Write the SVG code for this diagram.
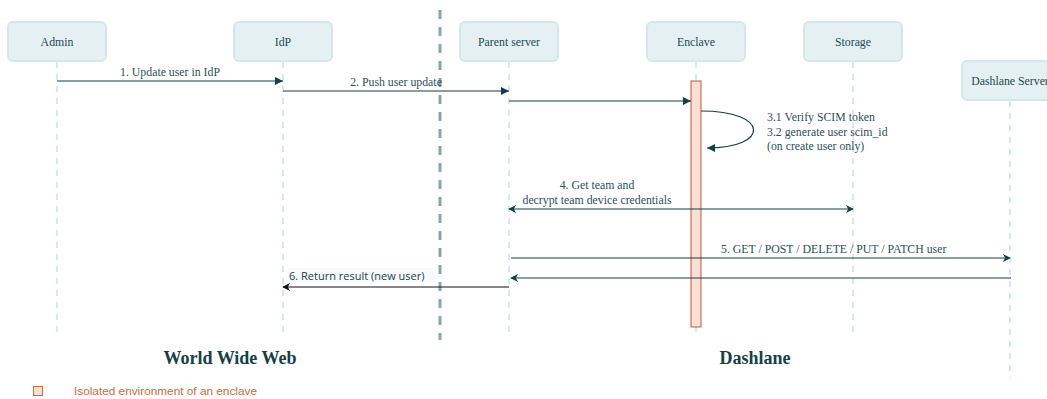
<svg xmlns="http://www.w3.org/2000/svg" width="1047" height="399" viewBox="0 0 1047 399">
<style>
.box{fill:#e5f0f3;stroke:#d3e7ec;stroke-width:2}
.lbl{font-family:"Liberation Serif",serif;font-size:11.8px;fill:#1f4a52;text-anchor:middle}
.life{stroke:#d6e9ee;stroke-width:2;stroke-dasharray:6 6;fill:none}
.msg{stroke:#163e45;stroke-width:1.2;fill:none}
.mt{font-family:"Liberation Serif",serif;font-size:11.8px;fill:#2d5057}
.big{font-family:"Liberation Serif",serif;font-size:18px;font-weight:bold;fill:#183f46;text-anchor:middle}
</style>
<defs>
<marker id="ah" viewBox="0 0 10 10" refX="10" refY="5" markerWidth="8" markerHeight="8" markerUnits="userSpaceOnUse" orient="auto-start-reverse"><path d="M0,0 L10,5 L0,10 z" fill="#163e45"/></marker>
<marker id="ao" viewBox="0 0 10 10" refX="9" refY="5" markerWidth="8" markerHeight="8" markerUnits="userSpaceOnUse" orient="auto-start-reverse"><path d="M0,0 L10,5 L0,10 L3,5 z" fill="#163e45"/></marker>
<marker id="ab" viewBox="0 0 10 10" refX="9" refY="5" markerWidth="8" markerHeight="8" markerUnits="userSpaceOnUse" orient="auto-start-reverse"><path d="M0,0 L10,5 L0,10 L3,5 z" fill="#111"/></marker>
</defs>
<g id="separator"><line x1="440" y1="10" x2="440" y2="340" stroke="#8ea3a6" stroke-width="3" stroke-dasharray="9 8"/></g>
<g id="lifelines">
<line class="life" x1="57" y1="62" x2="57" y2="338"/>
<line class="life" x1="283" y1="62" x2="283" y2="338"/>
<line class="life" x1="509" y1="62" x2="509" y2="338"/>
<line class="life" x1="696" y1="62" x2="696" y2="338"/>
<line class="life" x1="853" y1="62" x2="853" y2="338"/>
<line class="life" x1="1010" y1="101" x2="1010" y2="378"/>
</g>
<g id="admin"><rect class="box" x="8" y="22" width="98" height="39" rx="5"/><text class="lbl" x="57" y="46">Admin</text></g>
<g id="idp"><rect class="box" x="234" y="22" width="98" height="39" rx="5"/><text class="lbl" x="283" y="46">IdP</text></g>
<g id="parent"><rect class="box" x="460" y="22" width="98" height="39" rx="5"/><text class="lbl" x="509" y="46">Parent server</text></g>
<g id="enclave"><rect class="box" x="647" y="22" width="98" height="39" rx="5"/><text class="lbl" x="696" y="46">Enclave</text></g>
<g id="storage"><rect class="box" x="804" y="22" width="98" height="39" rx="5"/><text class="lbl" x="853" y="46">Storage</text></g>
<g id="dashlane-server"><rect class="box" x="962" y="61" width="98" height="39" rx="5"/><text class="lbl" x="1010" y="85">Dashlane Server</text></g>
<g id="activation"><rect x="691" y="81" width="10" height="246" fill="#fadfd4" stroke="#c0583b" stroke-width="1"/></g>
<g id="connectors">
<line class="msg" x1="57" y1="81" x2="283" y2="81" marker-end="url(#ah)"/>
<text class="mt" x="170" y="76" text-anchor="middle">1. Update user in IdP</text>
<line class="msg" x1="283" y1="91" x2="509" y2="91" marker-end="url(#ah)"/>
<text class="mt" x="396" y="86" text-anchor="middle">2. Push user update</text>
<line class="msg" x1="509" y1="101" x2="691" y2="101" marker-end="url(#ah)"/>
<path class="msg" d="M701,111 C770,111 770,148 707,148" marker-end="url(#ah)"/>
<text class="mt" x="767" y="121">3.1 Verify SCIM token</text>
<text class="mt" x="767" y="136">3.2 generate user scim_id</text>
<text class="mt" x="767" y="150">(on create user only)</text>
<line class="msg" x1="509" y1="209" x2="853" y2="209" marker-start="url(#ao)" marker-end="url(#ao)"/>
<text class="mt" x="597" y="189" text-anchor="middle">4. Get team and</text>
<text class="mt" x="597" y="204" text-anchor="middle">decrypt team device credentials</text>
<line class="msg" x1="511" y1="258" x2="1010" y2="258" marker-end="url(#ao)"/>
<text class="mt" x="721" y="253">5. GET / POST / DELETE / PUT / PATCH user</text>
<line class="msg" x1="1011" y1="278" x2="511" y2="278" marker-end="url(#ao)"/>
<line x1="509" y1="287" x2="283" y2="287" stroke="#111" stroke-width="1.2" marker-end="url(#ab)"/>
<rect x="288" y="268" width="148" height="14" fill="#f7fafa"/>
<text x="289" y="280" font-family="'Open Sans',sans-serif" font-size="11" fill="#1f4047">6. Return result (new user)</text>
</g>
<g id="regions">
<text class="big" x="230" y="364">World Wide Web</text>
<text class="big" x="755" y="364">Dashlane</text>
</g>
<g id="legend">
<rect x="33.5" y="386.5" width="9" height="9" fill="#fadfd4" stroke="#d0693f" stroke-width="1"/>
<text x="74" y="395" font-family="'Liberation Sans',sans-serif" font-size="11.8" fill="#d0693f">Isolated environment of an enclave</text>
</g>
</svg>
